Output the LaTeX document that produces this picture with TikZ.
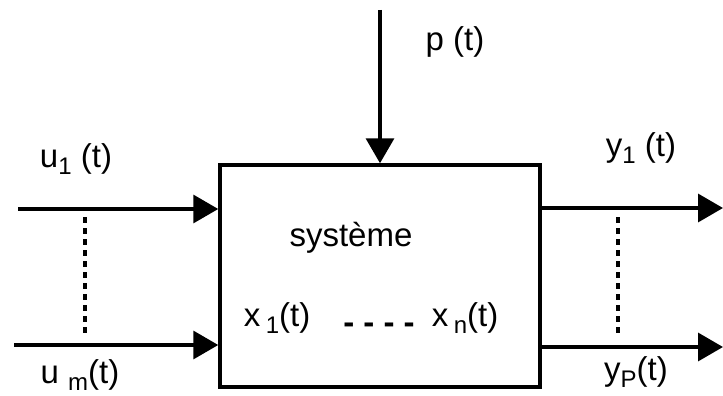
\documentclass[tikz,border=0pt]{standalone}
\usepackage{fontspec}
\setmainfont{Liberation Sans}
\usetikzlibrary{arrows.meta,positioning}
\newcommand{\lowsub}[1]{\raisebox{-0.22em}{\fontsize{24}{28}\selectfont #1}}
\tikzset{
  sysbox/.style={rectangle, draw=black, line width=3.5pt, minimum width=320pt,
                 minimum height=222pt, inner sep=0pt},
  sigarrow/.style={-{Triangle[length=25pt,width=28pt]}, line width=3.5pt},
  sigdots/.style={line width=4pt, dash pattern=on 6pt off 5pt},
  siglabel/.style={font=\fontsize{33}{40}\selectfont, inner sep=0pt, anchor=base},
}

\begin{document}
\begin{tikzpicture}[x=1pt, y=-1pt]
\useasboundingbox (0,0) rectangle (723,396);
% the system block
\node[siglabel] (sysname) at (351,246) {système};
\node[sysbox] (sys) at (380,276) {};
\node[siglabel] (x1) at (277,326) {x\,\lowsub{1}(t)};
\node[siglabel] (xdots) at (379,333) {\bfseries - - - -};
\node[siglabel] (xn) at (465,326) {x\,\lowsub{n}(t)};
% inputs
\coordinate (in1) at (18,209);
\coordinate (inm) at (14,345);
\draw[sigarrow] (in1) -- (sys.west |- in1);
\draw[sigarrow] (inm) -- (sys.west |- inm);
\coordinate (ud1) at (85,217); \coordinate (ud2) at (85,333);
\draw[sigdots] (ud1) -- (ud2);
\node[siglabel] (u1) at (76,167) {u\lowsub{1} (t)};
\node[siglabel] (um) at (80,383) {u \lowsub{m}(t)};
% perturbation
\coordinate (pin) at (380,10);
\draw[sigarrow] (pin) -- (sys.north);
\node[siglabel] (p) at (455,51) {p (t)};
% outputs
\coordinate (out1) at (723,208);
\coordinate (outp) at (723,347);
\draw[sigarrow] (sys.east |- out1) -- (out1);
\draw[sigarrow] (sys.east |- outp) -- (outp);
\coordinate (yd1) at (618,217); \coordinate (yd2) at (618,333);
\draw[sigdots] (yd1) -- (yd2);
\node[siglabel] (y1) at (641,156) {y\lowsub{1} (t)};
\node[siglabel] (yp) at (636,380) {y\lowsub{P}(t)};
\end{tikzpicture}
\end{document}
